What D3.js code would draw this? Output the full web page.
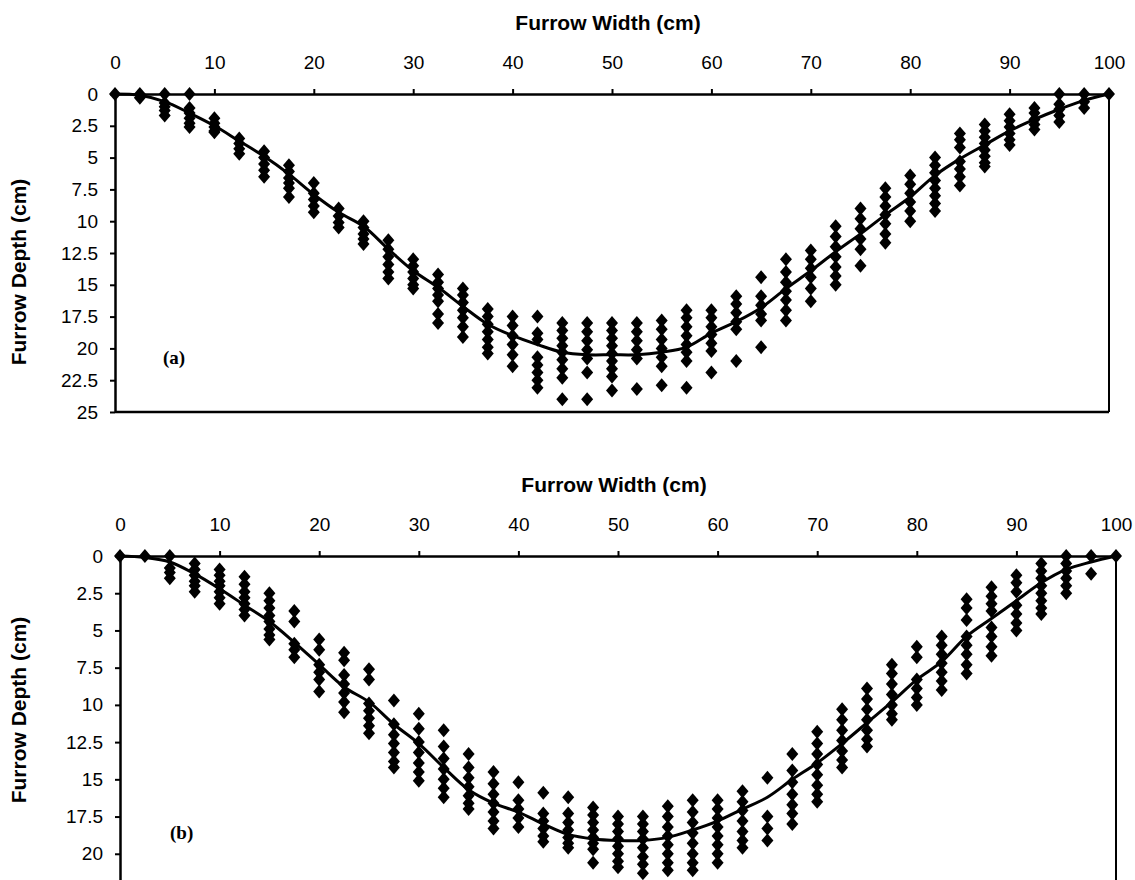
<!DOCTYPE html>
<html>
<head>
<meta charset="utf-8">
<script src="https://cdn.jsdelivr.net/npm/d3@7"></script>
<style>
    body { margin: 0; background: #fff; }
    svg { display: block; }
    .tick text { font-family: "Liberation Sans", Arial, sans-serif; font-size: 19px; fill: #000; }
    .axis-title { font-family: "Liberation Sans", Arial, sans-serif; font-size: 21px; font-weight: bold; }
    .panel-label { font-family: "Liberation Serif", "Times New Roman", serif; font-size: 19px; font-weight: bold; }
</style>
</head>
<body>
<svg id="chart" width="1135" height="880"></svg>
<script>
// positions across the furrow (cm), one reading column every 2.5 cm
const widths = [0, 2.5, 5, 7.5, 10, 12.5, 15, 17.5, 20, 22.5, 25, 27.5, 30, 32.5, 35, 37.5, 40,
    42.5, 45, 47.5, 50, 52.5, 55, 57.5, 60, 62.5, 65, 67.5, 70, 72.5, 75, 77.5, 80, 82.5, 85,
    87.5, 90, 92.5, 95, 97.5, 100];

const xTicks = [0, 10, 20, 30, 40, 50, 60, 70, 80, 90, 100];
const yTicksA = [0, 2.5, 5, 7.5, 10, 12.5, 15, 17.5, 20, 22.5, 25];
// panel (b) is cut by the page bottom just after 20
const yTicksB = [0, 2.5, 5, 7.5, 10, 12.5, 15, 17.5, 20];

// panel (a) measured depths, one list per width
const depthsA = [
    [0], [0, 0.3], [0, 0.7, 1.0, 1.3, 1.7], [0, 1.1, 1.5, 1.9, 2.3, 2.6], [1.9, 2.3, 2.6, 2.9, 3.0],
    [3.5, 3.9, 4.3, 4.7], [4.5, 5.0, 5.5, 6.0, 6.5], [5.6, 6.1, 6.6, 7.0, 7.4, 8.1],
    [7.0, 7.8, 8.3, 8.8, 9.3], [9.0, 9.6, 10.1, 10.5], [10.0, 10.5, 11.0, 11.4, 11.8],
    [11.5, 12.2, 12.8, 13.4, 14.0, 14.5], [13.0, 13.5, 14.0, 14.5, 15.0, 15.3],
    [14.2, 14.8, 15.3, 15.8, 16.3, 17.3, 18.0], [15.3, 15.8, 16.4, 17.0, 17.6, 18.3, 19.1],
    [16.9, 17.5, 18.1, 18.7, 19.3, 19.9, 20.4], [17.5, 18.2, 19.0, 19.7, 20.5, 21.4],
    [17.5, 18.8, 19.3, 20.7, 21.3, 21.9, 22.5, 23.1], [18.0, 18.6, 19.2, 19.8, 20.3, 20.9, 21.6, 22.3, 24.0],
    [18.0, 18.7, 19.4, 20.1, 20.8, 21.9, 24.0], [18.0, 18.6, 19.2, 19.8, 20.4, 21.0, 21.6, 22.2, 23.3],
    [18.0, 18.7, 19.4, 20.1, 20.8, 23.2], [17.8, 18.5, 19.3, 20.0, 20.7, 21.4, 22.9],
    [17.0, 17.6, 18.3, 19.0, 19.7, 20.3, 21.0, 23.1], [17.0, 17.6, 18.3, 18.9, 19.6, 20.2, 21.9],
    [15.9, 16.5, 17.2, 17.9, 18.5, 21.0], [14.4, 15.9, 16.6, 17.3, 17.8, 19.9],
    [13.0, 14.0, 14.8, 15.5, 16.2, 17.0, 17.8], [12.3, 13.0, 13.7, 14.4, 15.3, 16.3],
    [10.4, 11.2, 12.0, 12.8, 13.6, 14.3, 15.0], [9.0, 9.8, 10.6, 11.4, 12.2, 13.5],
    [7.4, 8.1, 8.8, 9.5, 10.2, 11.0, 11.7], [6.4, 7.1, 7.8, 8.5, 9.2, 10.0],
    [5.0, 5.6, 6.2, 6.8, 7.4, 8.0, 8.6, 9.2], [3.1, 3.6, 4.2, 5.3, 5.9, 6.5, 7.2],
    [2.4, 2.9, 3.4, 3.9, 4.4, 4.9, 5.4, 5.7], [1.6, 2.1, 2.6, 3.1, 3.6, 4.0],
    [1.1, 1.5, 2.0, 2.4, 2.8], [0, 0.8, 1.2, 1.7, 2.2], [0, 0.6, 1.1], [0]
];

// panel (a) mean profile
const meanA = [0, 0.1, 0.6, 1.5, 2.5, 3.7, 4.9, 6.3, 7.9, 9.3, 10.4, 12.2, 13.9, 15.2, 16.7, 18.1,
    19.0, 19.7, 20.3, 20.5, 20.5, 20.5, 20.3, 19.9, 18.8, 17.9, 16.8, 15.3, 13.9, 12.4, 11.0,
    9.5, 8.1, 6.4, 5.1, 4.0, 2.9, 2.0, 1.2, 0.5, 0];

// panel (b) measured depths, one list per width
const depthsB = [
    [0], [0], [0, 0.8, 1.1, 1.5], [0.5, 0.9, 1.3, 1.7, 2.0, 2.4], [0.9, 1.3, 1.7, 2.0, 2.4, 2.8, 3.2],
    [1.4, 1.9, 2.4, 2.8, 3.2, 3.6, 4.0], [2.5, 3.0, 3.5, 4.0, 4.4, 4.9, 5.3, 5.6],
    [3.7, 4.4, 5.9, 6.3, 6.8], [5.6, 6.3, 7.3, 7.8, 8.3, 9.1], [6.5, 7.0, 8.0, 8.6, 9.2, 9.8, 10.5],
    [7.6, 8.3, 9.9, 10.4, 10.9, 11.4, 11.9], [9.7, 11.3, 12.0, 12.6, 13.2, 13.8, 14.2],
    [10.6, 11.6, 12.5, 13.2, 13.9, 14.5, 15.1], [11.7, 12.8, 13.6, 14.3, 15.0, 15.6, 16.2],
    [13.3, 14.2, 14.9, 15.5, 16.1, 16.6, 17.0], [14.5, 15.3, 16.0, 16.6, 17.2, 17.8, 18.3],
    [15.2, 16.4, 17.0, 17.6, 18.2], [15.9, 17.3, 17.8, 18.3, 18.8, 19.2],
    [16.2, 17.3, 17.9, 18.4, 18.9, 19.3, 19.6], [16.9, 17.4, 17.9, 18.4, 18.9, 19.3, 19.7, 20.6],
    [17.5, 18.0, 18.5, 19.0, 19.5, 20.0, 20.5, 20.9], [17.5, 18.0, 18.5, 19.0, 19.6, 20.2, 20.7, 21.3],
    [16.8, 17.5, 18.2, 18.8, 19.4, 20.0, 20.6, 21.1], [16.4, 17.2, 17.9, 18.6, 19.3, 20.0, 20.6, 21.1],
    [16.4, 17.0, 17.6, 18.2, 18.8, 19.4, 20.0, 20.6], [15.8, 16.5, 17.1, 17.8, 18.5, 19.1, 19.6],
    [14.9, 17.5, 18.3, 19.1], [13.3, 14.4, 15.2, 16.0, 16.7, 17.3, 18.0],
    [11.8, 12.6, 13.3, 14.0, 14.7, 15.4, 16.0, 16.5], [10.3, 11.0, 11.7, 12.4, 13.1, 13.7, 14.2],
    [8.9, 9.6, 10.3, 11.0, 11.7, 12.3, 12.8], [7.3, 7.9, 8.6, 9.3, 10.0, 10.6, 11.0],
    [6.1, 6.8, 8.3, 8.9, 9.5, 10.0], [5.4, 6.0, 6.6, 7.2, 7.8, 8.4, 9.0],
    [2.9, 3.5, 4.3, 5.4, 6.0, 6.6, 7.3, 7.9], [2.1, 2.7, 3.2, 3.7, 4.8, 5.4, 6.1, 6.7],
    [1.3, 1.8, 2.4, 3.3, 3.9, 4.5, 5.0], [0.5, 1.0, 1.5, 2.0, 2.5, 3.0, 3.5, 3.9],
    [0, 0.5, 1.0, 1.5, 2.0, 2.5], [0, 1.2], [0]
];

// panel (b) mean profile
const meanB = [0, 0.1, 0.4, 1.2, 2.2, 3.3, 4.4, 5.8, 7.3, 8.8, 9.8, 11.3, 12.6, 14.2, 15.7, 16.6,
    17.2, 18.0, 18.7, 19.0, 19.1, 19.1, 18.9, 18.4, 17.8, 17.0, 16.2, 15.0, 13.9, 12.6, 11.2,
    9.8, 8.3, 7.1, 5.4, 4.2, 3.0, 1.8, 0.9, 0.4, 0];

const svg = d3.select("#chart");

const panels = [
    {label: "(a)", depths: depthsA, mean: meanA, yTicks: yTicksA, yMax: 25,
        left: 115, right: 1109, top: 94, bottom: 412, titleY: 30, yTitleY: 272, labelX: 163, labelY: 364},
    {label: "(b)", depths: depthsB, mean: meanB, yTicks: yTicksB, yMax: 22.5,
        left: 120, right: 1116, top: 556, bottom: 891, titleY: 492, yTitleY: 710, labelX: 170, labelY: 839}
];

const diamond = "M0,-7L6,0L0,7L-6,0Z";

panels.forEach(p => {
    const x = d3.scaleLinear().domain([0, 100]).range([p.left, p.right]);
    const y = d3.scaleLinear().domain([0, p.yMax]).range([p.top, p.bottom]);
    const g = svg.append("g");

    // frame: right side thinner, bottom may fall outside the picture
    g.append("line")
        .attr("x1", x(100)).attr("x2", x(100)).attr("y1", y(0)).attr("y2", y(p.yMax))
        .attr("stroke", "#000").attr("stroke-width", 2);
    g.append("line")
        .attr("x1", x(0)).attr("x2", x(100)).attr("y1", y(p.yMax)).attr("y2", y(p.yMax))
        .attr("stroke", "#000").attr("stroke-width", 2.5);

    const xAxis = g.append("g")
        .attr("transform", `translate(0,${y(0)})`)
        .call(d3.axisTop(x).tickValues(xTicks).tickSize(5).tickSizeOuter(0).tickPadding(20));
    const yAxis = g.append("g")
        .attr("transform", `translate(${x(0)},0)`)
        .call(d3.axisLeft(y).tickValues(p.yTicks).tickSize(5).tickSizeOuter(0).tickPadding(12)
            .tickFormat(d3.format("")));

    [xAxis, yAxis].forEach(a => {
        a.select(".domain").attr("stroke-width", 2.5);
        a.selectAll(".tick line").attr("stroke-width", 2);
    });

    g.append("text")
        .attr("class", "axis-title")
        .attr("x", (p.left + p.right) / 2 - 4)
        .attr("y", p.titleY)
        .attr("text-anchor", "middle")
        .text("Furrow Width (cm)");

    g.append("text")
        .attr("class", "axis-title")
        .attr("transform", `translate(26,${p.yTitleY}) rotate(-90)`)
        .attr("text-anchor", "middle")
        .text("Furrow Depth (cm)");

    g.append("text")
        .attr("class", "panel-label")
        .attr("x", p.labelX)
        .attr("y", p.labelY)
        .text(p.label);

    const points = [];
    widths.forEach((w, i) => p.depths[i].forEach(d => points.push({w: w, d: d})));

    g.selectAll(".pt")
        .data(points)
        .join("path")
        .attr("class", "pt")
        .attr("d", diamond)
        .attr("transform", d => `translate(${x(d.w)},${y(d.d)})`)
        .attr("fill", "#000");

    const line = d3.line()
        .x((d, i) => x(widths[i]))
        .y(d => y(d))
        .curve(d3.curveCatmullRom.alpha(0.5));

    g.append("path")
        .datum(p.mean)
        .attr("d", line)
        .attr("fill", "none")
        .attr("stroke", "#000")
        .attr("stroke-width", 3);
});
</script>
</body>
</html>
